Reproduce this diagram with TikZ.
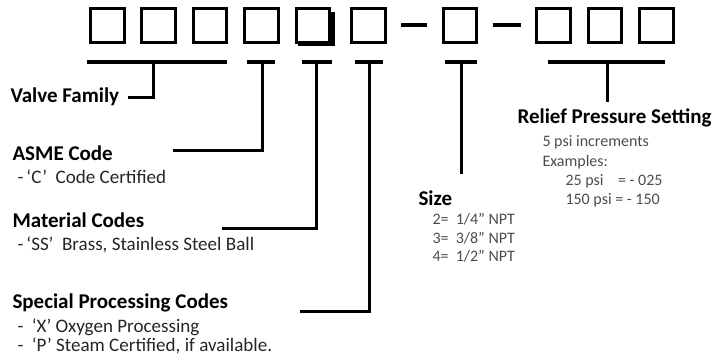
\documentclass[tikz,border=0pt]{standalone}
\usepackage{fontspec}
\setmainfont{Carlito}
\tikzset{every picture/.style={line width=0.75pt}}
\tikzset{
  digit/.style={draw, line width=2.25pt, fill=white, minimum size=25pt, inner sep=0pt},
  sep/.style={line width=3pt},
  bar/.style={line width=3pt},
  lead/.style={line width=2.25pt},
  head/.style={font=\fontsize{15.75}{18}\selectfont\bfseries, anchor=west, inner sep=0pt},
  note/.style={font=\fontsize{14.3}{16}\selectfont, text=black!85, anchor=west, inner sep=0pt},
  spec/.style={font=\fontsize{12}{13.9}\selectfont, text=black!70, anchor=west, align=left, inner sep=0pt}
}
\begin{document}
\begin{tikzpicture}[x=0.75pt,y=0.75pt,yscale=-1,xscale=1]
\useasboundingbox (0,0) rectangle (717,360);

%Shape: shadow of fifth box
\fill (298,12) rectangle (334.5,46.5);
%Shape: code boxes
\foreach \cx [count=\i] in {107.5,158.5,210,261.5,313,368.5,460,553.5,605,656.5}
  \node[digit] (box\i) at (\cx,25.5) {};
%Shape: dashes
\draw[sep] ([xshift=11pt]box6.east) -- ([xshift=-11pt]box7.west);
\draw[sep] ([xshift=11pt]box7.east) -- ([xshift=-11pt]box8.west);

%Shape: brackets
\draw[bar] (87,62) -- (227,62);
\draw[bar] (247,62) -- (275,62);
\draw[bar] (302,62) -- (332,62);
\draw[bar] (355,62) -- (383,62);
\draw[bar] (445,62) -- (477,62);
\draw[bar] (548,62) -- (665,62);
\coordinate (t1) at (153,62);
\coordinate (t2) at (262,62);
\coordinate (t3) at (316,62);
\coordinate (t4) at (369,62);
\coordinate (t5) at (461,62);
\coordinate (t6) at (607,62);

% Text Node
\node[head] (family) at (10,97) {Valve Family};
% Text Node
\node[head] (asme) at (12,153) {ASME Code};
\node[note] (asme1) at (17,177) {-\,‘C’\ \ Code Certified};
% Text Node
\node[head] (material) at (12,220) {Material Codes};
\node[note] (material1) at (17,245) {-\,‘SS’\ \ Brass, Stainless Steel Ball};
% Text Node
\node[head] (special) at (12,303) {Special Processing Codes};
\node[note] (special1) at (17,327) {-\ \ ‘X’ Oxygen Processing};
\node[note] (special2) at (17,346) {-\ \ ‘P’ Steam Certified, if available.};
% Text Node
\node[head] (size) at (418,198) {Size};
\node[spec] (sizes) at (432,238) {2=\ \ 1/4” NPT\\3=\ \ 3/8” NPT\\4=\ \ 1/2” NPT};
% Text Node
\node[head] (relief) at (517,118) {Relief Pressure Setting};
\node[spec] (relief1) at (542,142) {5 psi increments};
\node[spec] (relief2) at (542,162) {Examples:};
\node[spec] (relief3) at (565,191) {25 psi\ \ \ \ = - 025\\150 psi\ = - 150};

%Connectors
\coordinate (e1) at (128,97);
\coordinate (e2) at (173,150);
\coordinate (e3) at (222,228);
\coordinate (e4) at (300,311);
\draw[lead] (t1) |- (e1);
\draw[lead] (t2) |- (e2);
\draw[lead] (t3) |- (e3);
\draw[lead] (t4) |- (e4);
\draw[lead] (t5) -- (461,174);
\draw[lead] (t6) -- (607,102);

\end{tikzpicture}
\end{document}
